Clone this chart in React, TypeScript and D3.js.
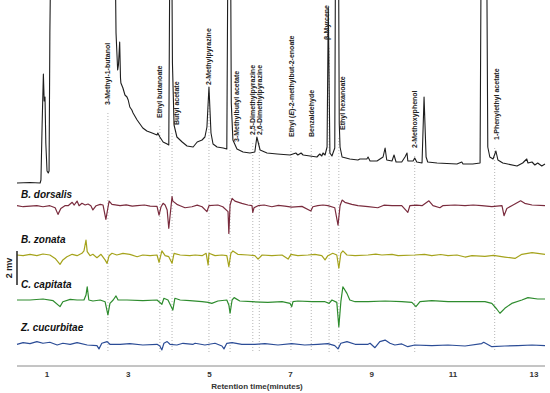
import React from 'react';
import * as d3 from 'd3';

// compounds marked on the FID trace (retention time, minutes)
const compounds = [
  '3-Methyl-1-butanol', 'Ethyl butanoate', 'Butyl acetate', '2-Methylpyrazine',
  '3-Methylbutyl acetate', '2,5-Dimethylpyrazine', '2,6-Dimethylpyrazine',
  'Ethyl (E)-2-methylbut-2-enoate', 'Benzaldehyde', 'β-Myrcene', 'Ethyl hexanoate',
  '2-Methoxyphenol', '1-Phenylethyl acetate',
];
const compoundTimes = [2.5, 3.78, 4.08, 4.99, 5.51, 6.07, 6.23, 7.01, 7.51, 7.95, 8.19, 10.06, 12.03];

const species = ['B. dorsalis', 'B. zonata', 'C. capitata', 'Z. cucurbitae'];
const xTicks = [1, 3, 5, 7, 9, 11, 13];

// FID response (arbitrary units), [min, response]
const fid: [number, number][] = [
  [0.26,0],[0.58,0.5],[0.83,0],[0.85,3],[0.88,60],[0.91,109],[0.93,82],[0.94,84],[0.95,86],[0.97,40],[1.0,12],[1.03,10],[1.05,12],[1.07,150],[1.1,260],
  [2.67,260],[2.7,150],[2.74,113],[2.76,118],[2.79,141],[2.81,105],[2.82,100],[2.87,95],[2.92,88],[2.97,86],[3.0,83],[3.04,76],[3.09,73],[3.12,70],
  [3.22,63],[3.29,59],[3.36,55],[3.46,52],[3.59,50],[3.71,48],[3.73,50],[3.78,46],[3.86,41],[3.96,39],[4.0,38],[4.03,260],[4.07,260],[4.09,120],
  [4.13,58],[4.2,46],[4.33,41],[4.45,37],[4.6,36],[4.7,41],[4.82,43],[4.89,46],[4.94,56],[4.99,96],[5.04,50],[5.09,39],[5.19,36],[5.34,35],[5.43,34],
  [5.46,260],[5.52,260],[5.54,80],[5.58,43],[5.68,34],[5.83,31],[6.0,30],[6.12,31],[6.17,46],[6.25,33],[6.42,30],[6.67,29],[6.99,28],[7.13,30],
  [7.18,28],[7.26,30],[7.31,28],[7.65,26],[7.72,29],[7.77,27],[7.8,30],[7.85,28],[7.9,36],[7.93,175],[7.97,30],[8.02,27],[8.09,35],[8.11,260],
  [8.18,260],[8.2,60],[8.22,36],[8.27,26],[8.46,24],[8.66,23],[8.71,24],[8.88,24],[8.91,26],[8.96,22],[9.13,22],[9.28,26],[9.33,35],[9.37,23],
  [9.5,22],[9.55,28],[9.6,21],[9.74,21],[9.82,26],[9.87,30],[9.89,22],[10.02,22],[10.06,25],[10.11,21],[10.24,20],[10.29,86],[10.34,26],[10.38,21],
  [10.61,20],[11.1,19],[11.22,21],[11.25,19],[11.49,19],[11.67,20],[11.7,260],[11.83,260],[11.86,36],[11.91,26],[11.99,24],[12.06,32],[12.11,23],
  [12.23,20],[12.58,17],[12.72,20],[12.82,24],[12.85,20],[12.95,21],[13.02,18],[13.09,20],[13.19,17],[13.27,19],
];

// EAD responses (mV, relative to each baseline), [min, mV]
const eadDorsalis: [number, number][] = [
  [0.26,0],[0.41,-0.06],[0.58,-0.02],[0.75,0],[0.9,-0.06],[1.07,0],[1.2,-0.12],[1.27,-0.51],[1.34,-0.16],[1.44,0],[1.52,0],[1.62,0.2],[1.67,0.04],
  [1.74,0.27],[1.79,0],[1.86,0.14],[1.94,0.04],[2.01,0.1],[2.08,0],[2.13,-0.25],[2.21,0],[2.31,0.08],[2.38,0.04],[2.45,-0.8],[2.5,-0.12],[2.53,0.27],
  [2.6,0.08],[2.8,0],[2.95,0.05],[3.1,-0.03],[3.22,0],[3.4,0.04],[3.54,-0.02],[3.71,-0.04],[3.76,-0.55],[3.81,-0.06],[3.86,0.14],[3.91,0.04],[3.96,-0.25],
  [4.0,-1.33],[4.08,0.53],[4.1,0.27],[4.2,0.08],[4.28,0],[4.4,-0.12],[4.57,-0.06],[4.7,0.03],[4.82,-0.06],[4.94,-0.35],[4.99,0],[5.21,0.04],[5.33,-0.06],
  [5.46,-0.35],[5.48,-1.63],[5.51,0.04],[5.56,0.43],[5.63,0.27],[5.8,0.14],[5.95,0.04],[6.05,0],[6.07,-0.39],[6.1,-0.12],[6.2,0],[6.35,0.04],[6.54,-0.06],
  [6.7,0.02],[6.86,-0.02],[7.03,-0.08],[7.28,-0.04],[7.5,-0.31],[7.55,-0.06],[7.67,0],[7.8,0.04],[7.92,0],[8.09,-0.12],[8.17,-1.14],[8.22,0],[8.27,0.33],
  [8.34,0.2],[8.51,0.08],[8.66,0],[8.91,-0.06],[9.15,-0.12],[9.3,0.03],[9.5,0],[9.74,0],[9.89,-0.39],[9.94,0],[10.1,0.03],[10.24,0],[10.41,0.29],
  [10.51,0],[10.68,-0.12],[10.75,0],[11.05,0.04],[11.3,0],[11.5,0.04],[11.71,0],[11.96,-0.06],[12.21,0],[12.26,-0.59],[12.33,-0.16],[12.45,0],
  [12.67,0.29],[12.77,0.14],[12.95,0.04],[13.27,0],
];
const eadZonata: [number, number][] = [
  [0.26,0],[0.41,-0.04],[0.58,0.04],[0.75,-0.04],[0.9,0.06],[1.07,0],[1.2,-0.2],[1.32,-0.55],[1.39,-0.29],[1.49,-0.1],[1.62,0.04],[1.74,-0.04],
  [1.86,0.1],[1.91,0.24],[1.96,0.88],[1.99,0.2],[2.06,-0.04],[2.13,0.04],[2.23,-0.16],[2.33,0.04],[2.43,-0.29],[2.48,-0.49],[2.53,-0.04],[2.6,0.1],
  [2.72,0],[2.87,0.1],[3.04,0.04],[3.22,-0.1],[3.36,0],[3.54,-0.04],[3.71,0],[3.76,-0.43],[3.83,0.24],[3.91,-0.04],[4.0,-0.1],[4.08,-0.49],[4.13,0.1],
  [4.28,0],[4.52,-0.04],[4.65,0],[4.82,-0.04],[4.92,0.1],[4.97,-0.59],[4.99,0.1],[5.14,-0.04],[5.31,0],[5.43,-0.04],[5.48,-0.69],[5.53,0.1],[5.58,0.24],
  [5.7,0.04],[5.95,0],[6.12,-0.04],[6.2,-0.24],[6.3,0],[6.54,-0.04],[6.79,0],[6.94,-0.24],[7.01,0.04],[7.18,-0.04],[7.43,0],[7.6,0.04],[7.77,-0.04],
  [7.85,-0.29],[7.92,-0.04],[8.04,0.1],[8.14,0],[8.19,-0.78],[8.24,0.1],[8.29,0.24],[8.39,0],[8.59,-0.04],[8.91,0],[9.1,0.05],[9.25,0],[9.5,0.04],
  [9.65,-0.04],[10.06,0],[10.3,0.04],[10.48,-0.04],[10.7,0.03],[10.88,-0.04],[11.1,0],[11.3,-0.12],[11.47,-0.04],[11.79,-0.08],[12.0,-0.02],[12.28,-0.12],
  [12.53,-0.2],[12.7,0.04],[12.95,0.14],[13.09,0.1],[13.27,0.04],
];
const eadCapitata: [number, number][] = [
  [0.26,0],[0.58,0],[0.9,0.06],[1.15,-0.04],[1.32,-0.39],[1.39,-0.1],[1.57,0.04],[1.74,0],[1.91,0],[1.96,0.29],[1.99,0.78],[2.03,0],[2.13,-0.06],
  [2.31,0],[2.43,-0.1],[2.5,-0.88],[2.55,-0.2],[2.63,0],[2.7,0.24],[2.75,0],[2.97,0],[3.36,-0.04],[3.71,0],[3.83,-0.25],[3.88,0.1],[3.98,0],
  [4.1,-0.59],[4.15,0.1],[4.28,0],[4.52,-0.04],[4.82,-0.1],[4.97,-0.14],[5.06,-0.2],[5.21,-0.06],[5.43,0],[5.48,-0.29],[5.51,-0.78],[5.56,0],
  [5.61,0.14],[5.75,-0.06],[6.05,-0.1],[6.44,-0.14],[6.79,-0.1],[6.99,-0.2],[7.03,-0.39],[7.06,-0.1],[7.18,-0.06],[7.53,-0.1],[7.85,-0.1],[7.95,-0.2],
  [8.02,0],[8.14,-0.14],[8.19,-1.57],[8.24,-0.1],[8.29,0.78],[8.39,0.39],[8.46,0],[8.59,-0.1],[8.91,-0.1],[9.33,-0.06],[9.74,-0.1],[9.99,-0.14],
  [10.09,-0.39],[10.19,-0.1],[10.48,-0.04],[10.88,-0.1],[11.3,-0.1],[11.79,-0.1],[11.96,-0.2],[12.08,-0.53],[12.16,-0.78],[12.28,-0.49],[12.45,-0.2],
  [12.7,0],[12.85,0.14],[13.09,0.06],[13.27,0.06],
];
const eadCucurbitae: [number, number][] = [
  [0.26,0],[0.41,0.1],[0.58,0.04],[0.75,0.16],[0.9,0.06],[1.07,0.12],[1.25,-0.04],[1.39,0.06],[1.57,0],[1.74,0.1],[1.99,-0.04],[2.23,-0.08],
  [2.28,-0.27],[2.35,0.06],[2.48,0.16],[2.55,0],[2.8,0],[3.04,0.04],[3.36,-0.04],[3.71,0],[3.78,-0.1],[3.83,-0.33],[3.88,0.06],[3.96,0.16],[4.03,0],
  [4.2,-0.04],[4.35,0.06],[4.6,0],[4.65,0.06],[4.89,-0.04],[5.14,0.06],[5.31,-0.1],[5.36,-0.27],[5.43,0.06],[5.56,0.1],[5.8,0],[6.12,0],[6.37,0.04],
  [6.69,-0.04],[7.03,0.04],[7.35,-0.04],[7.67,0],[7.92,0.04],[8.09,-0.08],[8.17,-0.27],[8.24,0.06],[8.39,0.16],[8.59,0],[8.91,0],[8.96,0.06],
  [9.08,-0.2],[9.2,0.16],[9.33,0.25],[9.45,0.06],[9.57,-0.04],[9.74,0.02],[9.89,-0.14],[10.06,-0.04],[10.48,-0.08],[10.88,-0.04],[11.3,-0.1],
  [11.71,0.04],[11.76,0.12],[11.96,-0.14],[12.28,-0.1],[12.6,-0.08],[12.95,-0.04],[13.27,-0.08],
];

const eadTraces = [eadDorsalis, eadZonata, eadCapitata, eadCucurbitae];

// layout
const W = 550, H = 393;
const colors = ['#7a2c3e', '#a5a31c', '#2e8c2e', '#2b4c96'];
const baselines = [205.7, 255, 300, 344.3];
const labelBaselines = [198, 243, 288, 331];
const labelBottom = [105, 118, 125, 85, 142, 135, 135, 137, 137, 40, 130, 148, 140];
const labelShift = [0, 0, 4, 0, 6, 0, 0, 1, 0, -3, 4, 0, 2];
const font = '"Liberation Sans", Arial, sans-serif';

export default function App() {
  const x = d3.scaleLinear().domain([0.26, 13.27]).range([17, 545]);
  const yFid = d3.scaleLinear().domain([0, 183]).range([183, 0]);
  const mv = d3.scaleLinear().domain([0, 2]).range([0, -34]);

  const fidLine = d3.line<[number, number]>()
    .x(d => x(d[0]))
    .y(d => yFid(d[1]));

  const eadLine = (base: number) => d3.line<[number, number]>()
    .x(d => x(d[0]))
    .y(d => base + mv(d[1]));

  const renderLabel = (name: string) => {
    if (name.includes('(E)')) {
      const [a, b] = name.split('E)');
      return (<>{a}<tspan fontStyle="italic">E</tspan>{')' + b}</>);
    }
    return name;
  };

  return (
    <div style={{ position: 'absolute', left: 0, top: 0 }}>
      <svg width={W} height={H} style={{ display: 'block', background: '#fff' }}>
        {/* dotted guides */}
        {compoundTimes.map((t, i) => (
          <line key={'g' + i} x1={x(t)} x2={x(t)} y1={labelBottom[i] + 8} y2={352}
            stroke="#b5b5b5" strokeWidth={1} strokeDasharray="1,2" />
        ))}

        {/* FID */}
        <path d={fidLine(fid) || ''} fill="none" stroke="#1e1e1e" strokeWidth={1.1} strokeLinejoin="round" />

        {/* compound labels */}
        {compounds.map((name, i) => (
          <text key={'c' + i} transform={`translate(${x(compoundTimes[i]) + labelShift[i] + 2.5},${labelBottom[i]}) rotate(-90)`}
            fontFamily={font} fontSize={7} fontWeight="bold" fill="#222">
            {renderLabel(name)}
          </text>
        ))}

        {/* EAD traces */}
        {eadTraces.map((tr, i) => (
          <path key={'e' + i} d={eadLine(baselines[i])(tr) || ''} fill="none" stroke={colors[i]}
            strokeWidth={1.2} strokeLinejoin="round" />
        ))}
        {species.map((s, i) => (
          <text key={'s' + i} x={21} y={labelBaselines[i]} fontFamily={font} fontSize={10}
            fontWeight="bold" fontStyle="italic" fill="#111">{s}</text>
        ))}

        {/* scale bar */}
        <line x1={17} x2={17} y1={285} y2={285 + mv(2)} stroke="#222" strokeWidth={1.5} />
        <text transform="translate(12,268) rotate(-90)" textAnchor="middle" fontFamily={font}
          fontSize={9} fontWeight="bold" fill="#222">2 mv</text>

        {/* time axis */}
        <line x1={x.range()[0]} x2={x.range()[1]} y1={366} y2={366} stroke="#8a8a8a" strokeWidth={1} />
        {xTicks.map(t => (
          <text key={'t' + t} x={x(t)} y={377} textAnchor="middle" fontFamily={font} fontSize={8}
            fontWeight="bold" fill="#333">{t}</text>
        ))}
        <text x={257} y={389} textAnchor="middle" fontFamily={font} fontSize={8} fontWeight="bold" fill="#333">
          Retention time(minutes)
        </text>
      </svg>
    </div>
  );
}
